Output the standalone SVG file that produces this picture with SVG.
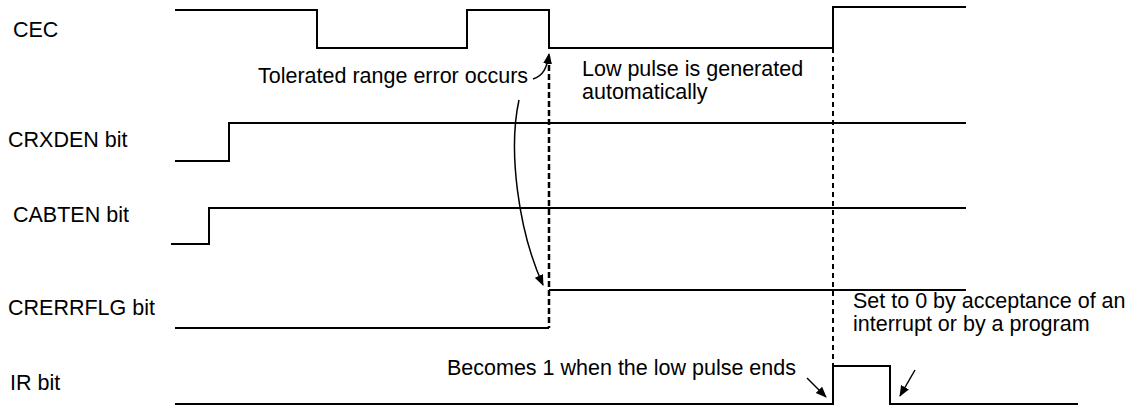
<svg xmlns="http://www.w3.org/2000/svg" width="1130" height="407" viewBox="0 0 1130 407">
<style>
text{font-family:"Liberation Sans",Arial,sans-serif;font-size:21.5px;fill:#000}
.w{fill:none;stroke:#000;stroke-width:2}
.c{fill:none;stroke:#000;stroke-width:1.5}
.d1{fill:none;stroke:#000;stroke-width:2.5;stroke-dasharray:6 3}
.d2{fill:none;stroke:#000;stroke-width:2;stroke-dasharray:5 4}
</style>
<defs>
<marker id="ah" markerWidth="11" markerHeight="10" refX="10" refY="5" orient="auto" markerUnits="userSpaceOnUse">
<path d="M0,0.5 L11,5 L0,9.5 Z" fill="#000"/>
</marker>
</defs>
<rect width="1130" height="407" fill="#fff"/>
<g id="cec">
<text x="13" y="37">CEC</text>
<path class="w" d="M175,10 H317 V48 H467 V10 H549 V48 H833 V7 H966"/>
</g>
<g id="crxden">
<text x="8" y="147">CRXDEN bit</text>
<path class="w" d="M175,161 H229 V123 H966"/>
</g>
<g id="cabten">
<text x="13" y="222">CABTEN bit</text>
<path class="w" d="M171,244 H209 V208 H966"/>
</g>
<g id="crerrflg">
<text x="8" y="315">CRERRFLG bit</text>
<path class="w" d="M175,328 H549 M549,290 H966"/>
</g>
<g id="ir">
<text x="10" y="390">IR bit</text>
<path class="w" d="M175,404 H833 V366 H890 V404 H1078"/>
</g>
<g id="notes">
<text x="258" y="83">Tolerated range error occurs</text>
<text x="582" y="76">Low pulse is generated</text>
<text x="582" y="99">automatically</text>
<text x="447" y="375">Becomes 1 when the low pulse ends</text>
<text x="853" y="308">Set to 0 by acceptance of an</text>
<text x="853" y="331">interrupt or by a program</text>
</g>
<g id="connectors">
<path class="d1" d="M549,56 V328"/>
<path class="d2" d="M833,48 V366"/>
<path class="c" marker-end="url(#ah)" d="M533,79 C543,76 547,68 549,54"/>
<path class="c" marker-end="url(#ah)" d="M519,100 C508,150 518,230 543,285"/>
<path class="c" marker-end="url(#ah)" d="M807,378 L826,397"/>
<path class="c" marker-end="url(#ah)" d="M915,370 L900,396"/>
</g>
</svg>
